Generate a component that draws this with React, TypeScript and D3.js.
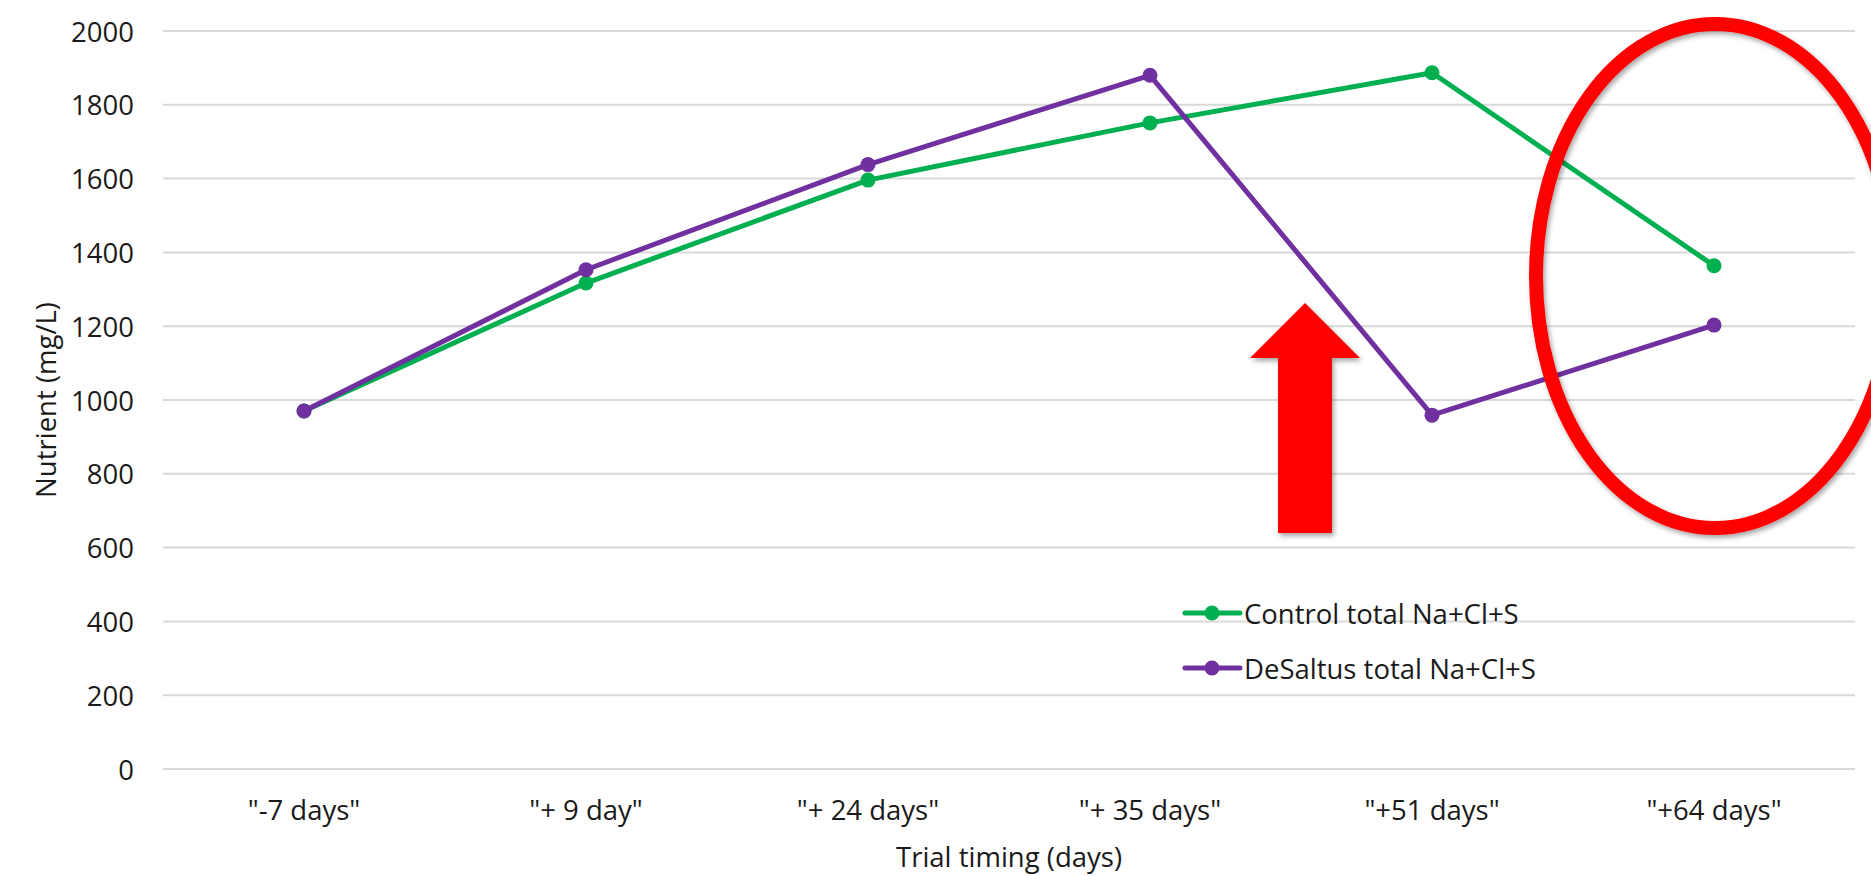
import React from "react";
import * as d3 from "d3";

const categories = ['"-7 days"', '"+ 9 day"', '"+ 24 days"', '"+ 35 days"', '"+51 days"', '"+64 days"'];
const controlValues = [970, 1317, 1596, 1751, 1887, 1364];
const desaltusValues = [970, 1353, 1638, 1880, 959, 1203];
const yTicks = [0, 200, 400, 600, 800, 1000, 1200, 1400, 1600, 1800, 2000];
const seriesNames = ["Control total Na+Cl+S", "DeSaltus total Na+Cl+S"];
const seriesColors = ["#00B050", "#7030A0"];

const W = 1871;
const H = 876;
const plotLeft = 163;
const plotRight = 1855;
const plotTop = 31;
const plotBottom = 769;
const FONT = "'Open Sans', sans-serif";
const FS = 27.5;

export default function App() {
  const x = d3.scaleBand<string>().domain(categories).range([plotLeft, plotRight]);
  const y = d3.scaleLinear().domain([0, 2000]).range([plotBottom, plotTop]);
  const cx = (c: string) => (x(c) as number) + x.bandwidth() / 2;
  const line = d3
    .line<number>()
    .x((_, i) => cx(categories[i]))
    .y((d) => y(d));
  const series = [controlValues, desaltusValues];

  return (
    <svg
      width={W}
      height={H}
      style={{ position: "absolute", left: 0, top: 0, background: "#fff" }}
      fontFamily={FONT}
    >
      <defs>
        <filter id="shadow" x="-20%" y="-20%" width="140%" height="140%">
          <feDropShadow dx="2" dy="3" stdDeviation="2.5" floodColor="#000" floodOpacity="0.35" />
        </filter>
      </defs>
      <rect x={0} y={0} width={W} height={H} fill="#fff" />
      {yTicks.map((t) => (
        <g key={t}>
          <line x1={plotLeft} x2={plotRight} y1={y(t)} y2={y(t)} stroke="#D9D9D9" strokeWidth={2} />
          <text x={134} y={y(t)} textAnchor="end" dominantBaseline="central" fontSize={FS} fill="#1a1a1a">
            {t}
          </text>
        </g>
      ))}
      {categories.map((c) => (
        <text key={c} x={cx(c)} y={820} textAnchor="middle" fontSize={FS} fill="#1a1a1a">
          {c}
        </text>
      ))}
      <text x={1009} y={867} textAnchor="middle" fontSize={FS} fill="#1a1a1a">
        Trial timing (days)
      </text>
      <text
        transform={`translate(45, ${(plotTop + plotBottom) / 2}) rotate(-90)`}
        textAnchor="middle"
        dominantBaseline="central"
        fontSize={FS}
        fill="#1a1a1a"
      >
        Nutrient (mg/L)
      </text>
      {series.map((vals, si) => (
        <g key={si}>
          <path d={line(vals) || ""} fill="none" stroke={seriesColors[si]} strokeWidth={5} strokeLinejoin="round" />
          {vals.map((v, i) => (
            <circle key={i} cx={cx(categories[i])} cy={y(v)} r={7.5} fill={seriesColors[si]} />
          ))}
        </g>
      ))}
      {seriesNames.map((n, si) => {
        const ly = 613 + si * 55;
        return (
          <g key={n}>
            <line x1={1185} x2={1240} y1={ly} y2={ly} stroke={seriesColors[si]} strokeWidth={5} strokeLinecap="round" />
            <circle cx={1212} cy={ly} r={7.5} fill={seriesColors[si]} />
            <text x={1244} y={ly} dominantBaseline="central" fontSize={FS} fill="#1a1a1a">
              {n}
            </text>
          </g>
        );
      })}
      <path
        d="M1305,303 L1360,358 L1332,358 L1332,533 L1278,533 L1278,358 L1250,358 Z"
        fill="#FF0000"
        filter="url(#shadow)"
      />
      <ellipse
        cx={1715}
        cy={276}
        rx={179}
        ry={252}
        fill="none"
        stroke="#FF0000"
        strokeWidth={14}
        filter="url(#shadow)"
      />
    </svg>
  );
}
